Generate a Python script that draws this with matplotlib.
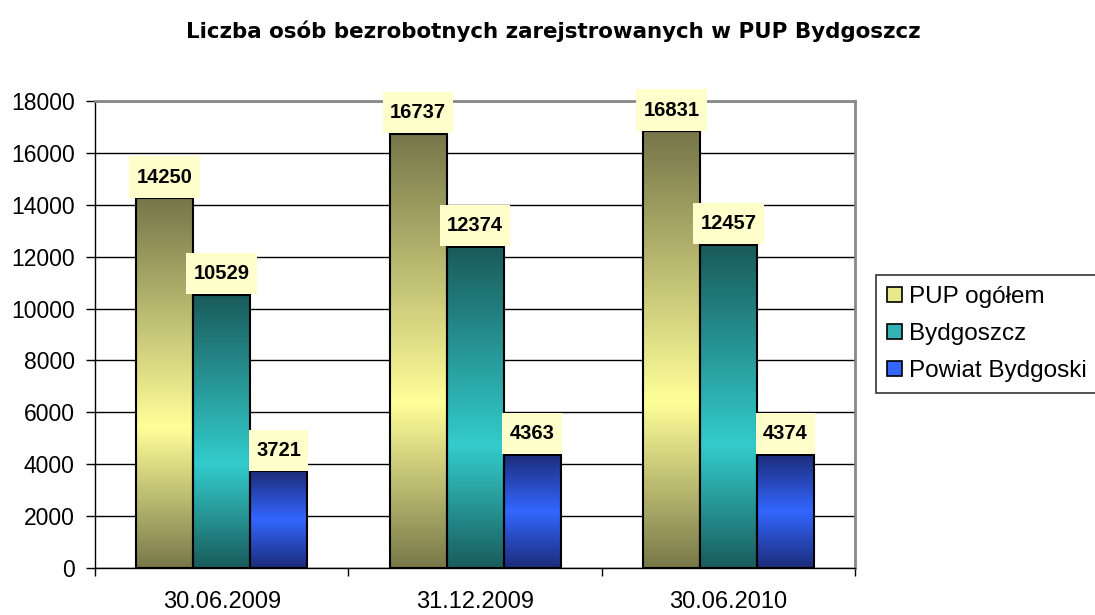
import numpy as np
import matplotlib
matplotlib.use("Agg")
import matplotlib.pyplot as plt
from matplotlib.colors import LinearSegmentedColormap
from matplotlib.patches import Patch
from matplotlib.path import Path

plt.rcParams['font.family'] = ['Liberation Sans', 'DejaVu Sans']

title = "Liczba osób bezrobotnych zarejstrowanych w PUP Bydgoszcz"
categories = ["30.06.2009", "31.12.2009", "30.06.2010"]
series_names = ["PUP ogółem", "Bydgoszcz", "Powiat Bydgoski"]
pup = [14250, 16737, 16831]
bydgoszcz = [10529, 12374, 12457]
powiat = [3721, 4363, 4374]
series_values = [pup, bydgoszcz, powiat]

# gradient colours: (top, peak, bottom), legend colour
grad_colors = [
    ("#76764a", "#ffff99", "#78784a"),
    ("#1a5a5a", "#33cccc", "#1a5c5c"),
    ("#1c2c7a", "#3366ff", "#1c2c7a"),
]
legend_colors = ["#e8e88c", "#33b3b3", "#3366ff"]
peak_pos = [0.62, 0.62, 0.5]


def label_box(x0, y0, width, height, mutation_size):
    px = 0.36 * mutation_size
    py = 0.55 * mutation_size
    xa, ya = x0 - px, y0 - py
    xb, yb = x0 + width + px, y0 + height + py
    return Path([(xa, ya), (xb, ya), (xb, yb), (xa, yb), (xa, ya)], closed=True)


fig = plt.figure(figsize=(10.95, 6.15), dpi=100)
ax = fig.add_axes([95/1095, 1-568/615, (855-95)/1095, (568-101)/615])

x = np.arange(len(categories))
width = 0.225
offsets = [-width, 0, width]

for i, (vals, cols) in enumerate(zip(series_values, grad_colors)):
    bars = ax.bar(x + offsets[i], vals, width, facecolor='none',
                  edgecolor='black', linewidth=1.5, zorder=4)
    p = peak_pos[i]
    cmap = LinearSegmentedColormap.from_list(
        f"g{i}", [(0, cols[2]), (1 - p, cols[1]), (1, cols[0])])
    grad = np.linspace(0, 1, 256).reshape(-1, 1)
    for b in bars:
        x0, w, h = b.get_x(), b.get_width(), b.get_height()
        im = ax.imshow(grad, cmap=cmap, origin='lower', aspect='auto',
                       extent=[x0, x0 + w, 0, h], zorder=3)
        im.set_clip_path(b)
        fs = 14.5
        ax.annotate(f"{int(h)}", xy=(x0 + w/2, h), xytext=(0, 0.55*fs + 0.5),
                    textcoords='offset points', ha='center', va='bottom',
                    fontsize=fs, fontweight='bold', zorder=6,
                    annotation_clip=False,
                    bbox=dict(boxstyle=label_box, fc='#ffffcc', ec='none'))

ax.set_xlim(-0.5, len(categories) - 0.5)
ax.set_ylim(0, 18000)
ax.set_yticks(np.arange(0, 18001, 2000))
ax.tick_params(axis='y', labelsize=16.5, length=6.5, width=1, direction='out', pad=8)
ax.set_xticks(x)
ax.set_xticklabels(categories, fontsize=17)
ax.tick_params(axis='x', which='major', length=0, pad=16.5)
ax.set_xticks(np.arange(-0.5, len(categories), 1), minor=True)
ax.tick_params(axis='x', which='minor', length=6, width=1, direction='out')

ax.yaxis.grid(True, color='black', linewidth=1)
ax.set_axisbelow(True)
for s in ['top', 'right']:
    ax.spines[s].set_color('#888888')
    ax.spines[s].set_linewidth(2)
for s in ['left', 'bottom']:
    ax.spines[s].set_color('black')
    ax.spines[s].set_linewidth(1)
ax.set_zorder(1)

fig.text(0.5 + 6/1095, 1 - 31/615, title, ha='center', va='center', fontsize=15.4,
         fontweight='bold', family=['DejaVu Sans'])

handles = [Patch(facecolor=c, edgecolor='black', linewidth=1.2) for c in legend_colors]
leg = fig.legend(handles, series_names, loc='upper left',
                 bbox_to_anchor=(876/1095, 1 - 275/615), fontsize=17.5,
                 frameon=True, fancybox=False, edgecolor='black',
                 handlelength=0.6, handleheight=0.6, handletextpad=0.3,
                 labelspacing=0.62, borderpad=0.45, borderaxespad=0)
leg.get_frame().set_linewidth(1.2)

fig.savefig("out.png", dpi=100)
